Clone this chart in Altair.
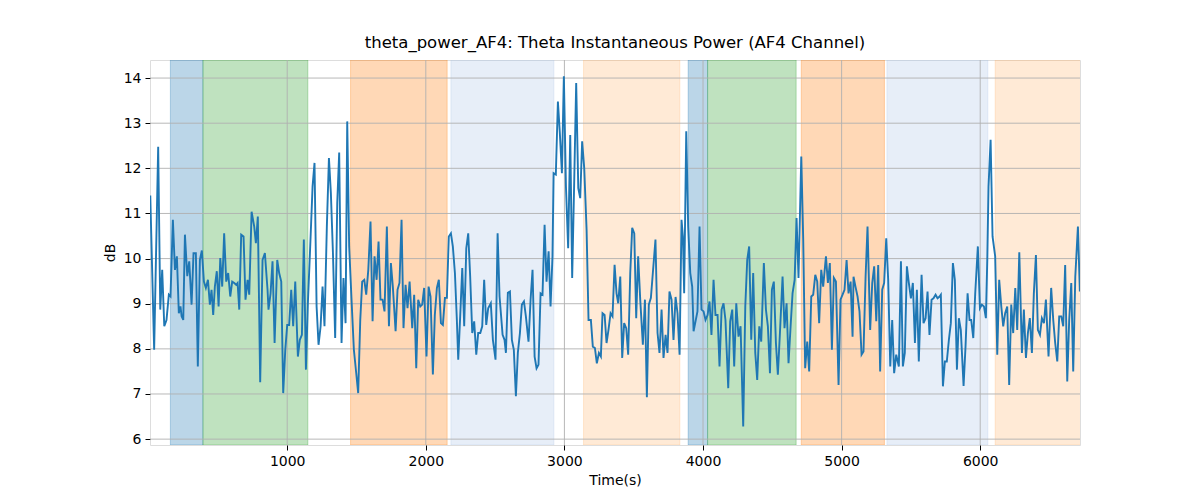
import altair as alt
import pandas as pd

# ---- line data (time in s, power in dB) ----
seg1_t = [12, 40, 69, 84, 98, 113, 129, 146, 158, 175, 190, 204, 218, 230, 238, 250, 262, 279, 293, 310,
          324, 341, 355, 370, 384, 399, 413, 428, 442, 454, 466, 478, 492, 505, 517, 531, 545, 560, 574, 589,
          603, 618, 632, 642, 654, 668, 685, 699, 714, 726, 743, 762, 774, 788, 805, 822, 839, 858]
seg1_v = [11.4, 7.98, 12.48, 8.87, 9.75, 8.50, 8.64, 9.20, 9.16, 10.86, 9.75, 10.05, 8.79, 8.94, 8.72, 8.64, 10.53, 9.61, 9.94, 8.98,
          10.12, 10.12, 7.61, 9.97, 10.18, 9.49, 9.35, 9.53, 8.98, 9.31, 8.75, 9.38, 9.72, 8.94, 10.01, 9.38, 10.56, 9.49, 9.68, 9.16,
          9.49, 9.46, 9.42, 9.46, 8.87, 10.53, 10.49, 9.09, 9.53, 9.20, 11.04, 10.71, 10.34, 10.93, 7.26, 9.97, 10.12, 9.31]

seg2_t = [865, 880, 894, 909, 928, 942, 957, 971, 986, 1000, 1014, 1029, 1043, 1058, 1077, 1091, 1106, 1120, 1135, 1149,
          1164, 1183, 1197, 1212, 1226, 1241, 1255, 1269, 1286, 1301, 1315, 1330, 1346, 1361, 1375, 1392, 1406, 1421, 1433, 1447,
          1464, 1481, 1498, 1512, 1527, 1541, 1556, 1570, 1585, 1601, 1616, 1630, 1645, 1659, 1673, 1688, 1702]
seg2_v = [8.87, 9.23, 9.94, 8.13, 9.97, 9.68, 9.49, 7.02, 7.98, 8.53, 8.53, 9.31, 8.50, 9.49, 7.83, 8.20, 8.31, 10.42, 7.54, 9.01,
          10.12, 11.60, 12.12, 8.94, 8.09, 8.50, 9.38, 8.50, 10.71, 12.23, 11.45, 10.12, 8.24, 11.23, 12.35, 8.13, 9.57, 8.57, 13.04, 10.27,
          9.09, 7.98, 7.46, 7.02, 8.64, 9.49, 9.53, 9.20, 9.75, 10.82, 8.61, 10.05, 9.53, 10.38, 9.09, 9.09, 8.83]

seg3_t = [1719, 1734, 1748, 1762, 1782, 1796, 1810, 1825, 1839, 1854, 1868, 1883, 1902, 1916, 1931, 1945, 1960, 1974, 1988, 2005,
          2020, 2034, 2051, 2065, 2080, 2094, 2109, 2123, 2138, 2152, 2166, 2181, 2195, 2210, 2224, 2234, 2248, 2263, 2277, 2292,
          2306, 2320, 2335, 2349, 2364, 2378, 2393, 2407, 2421, 2436, 2450, 2469, 2484, 2503, 2518, 2532]
seg3_v = [10.71, 8.50, 9.90, 9.38, 8.39, 9.31, 9.46, 10.86, 8.46, 9.42, 8.90, 9.49, 8.46, 9.20, 7.57, 9.09, 8.94, 8.98, 9.35, 7.83,
          9.38, 9.16, 7.43, 8.75, 9.35, 9.53, 8.57, 8.53, 9.13, 9.13, 10.49, 10.56, 10.27, 9.68, 8.64, 7.76, 8.72, 9.79, 8.50, 10.23,
          10.56, 9.61, 8.35, 8.61, 7.87, 8.35, 8.35, 8.50, 9.53, 8.53, 8.90, 9.01, 8.20, 7.76, 10.56, 9.16]

seg4_t = [2554, 2568, 2578, 2592, 2607, 2621, 2635, 2650, 2664, 2679, 2693, 2708, 2722, 2741, 2756, 2770, 2785, 2799, 2813, 2828,
          2842, 2857, 2871, 2886, 2900, 2914, 2922, 2938, 2953, 2967, 2982, 2996, 3011, 3027, 3042, 3056, 3071, 3085, 3100, 3114,
          3128, 3143, 3160, 3174, 3191, 3205, 3220, 3234, 3249, 3263, 3275, 3290, 3304, 3318, 3333, 3347, 3362, 3376]
seg4_v = [8.31, 8.20, 7.91, 9.24, 9.27, 8.20, 7.98, 6.95, 7.91, 8.35, 8.98, 9.05, 8.72, 8.16, 9.09, 9.75, 7.83, 7.57, 7.65, 9.23,
          9.20, 10.75, 9.49, 10.16, 8.94, 10.05, 11.89, 11.86, 13.48, 12.78, 11.89, 14.04, 11.60, 10.23, 12.74, 9.57, 11.75, 13.89, 11.56, 11.34,
          12.60, 12.00, 10.64, 8.64, 8.64, 8.05, 8.02, 7.68, 7.91, 7.83, 8.79, 8.75, 8.13, 8.42, 8.79, 8.72, 9.86, 9.23]

seg5_t = [3388, 3403, 3417, 3431, 3446, 3460, 3475, 3489, 3504, 3518, 3532, 3547, 3566, 3581, 3595, 3609, 3624, 3638, 3657, 3672,
          3686, 3701, 3715, 3730, 3744, 3758, 3773, 3787, 3802, 3816, 3831, 3845, 3855, 3864, 3879, 3893, 3908, 3922, 3932, 3946,
          3960, 3975, 3989, 4004, 4018, 4033, 4047, 4061, 4076, 4090, 4105, 4119, 4134, 4148, 4162, 4182, 4196, 4211, 4225, 4240]
seg5_v = [9.01, 9.60, 7.80, 8.57, 8.46, 7.87, 9.68, 10.68, 10.56, 8.68, 10.05, 9.09, 8.09, 9.09, 6.93, 8.98, 9.13, 9.68, 10.42, 8.35,
          7.91, 8.87, 7.80, 8.31, 7.91, 9.27, 9.09, 8.20, 9.15, 8.79, 7.87, 10.86, 10.49, 9.23, 12.82, 10.71, 9.68, 9.38, 8.39, 8.61,
          8.83, 10.71, 8.87, 8.83, 8.64, 8.75, 9.05, 8.31, 9.53, 8.75, 8.75, 7.61, 8.87, 9.01, 8.64, 7.13, 8.61, 8.87, 7.61, 9.01]

seg6_t = [4256, 4271, 4290, 4305, 4319, 4333, 4348, 4362, 4377, 4391, 4406, 4420, 4439, 4454, 4468, 4483, 4497, 4511, 4526, 4540,
          4555, 4574, 4588, 4603, 4617, 4632, 4646, 4661, 4675, 4689, 4709, 4723, 4737, 4752, 4766, 4781, 4795, 4810, 4824, 4838,
          4853, 4867, 4887, 4901, 4915, 4930, 4944, 4959, 4978, 4992, 5007, 5021, 5036, 5050, 5065, 5079]
seg6_v = [8.27, 8.50, 6.28, 8.94, 9.97, 10.27, 8.20, 9.68, 7.91, 7.31, 8.50, 8.16, 9.90, 8.87, 8.50, 7.46, 9.31, 9.49, 8.13, 7.43,
          8.35, 9.60, 8.46, 9.01, 7.68, 8.50, 9.23, 9.53, 10.90, 9.57, 12.26, 10.42, 7.57, 8.16, 7.50, 9.16, 9.20, 9.64, 9.49, 8.57,
          9.75, 9.38, 10.05, 9.46, 9.90, 7.98, 9.57, 9.49, 7.20, 9.09, 9.20, 9.31, 9.97, 9.23, 9.49, 8.27]

seg7_t = [5086, 5100, 5115, 5129, 5144, 5158, 5173, 5187, 5206, 5221, 5235, 5250, 5264, 5278, 5293, 5307, 5322, 5336, 5351, 5365,
          5379, 5394, 5413, 5428, 5442, 5456, 5471, 5485, 5500, 5514, 5529, 5543, 5557, 5577, 5591, 5606, 5620, 5634, 5649, 5663,
          5678, 5692, 5707, 5716, 5731, 5745, 5759, 5774, 5788, 5803, 5817, 5832, 5846, 5860, 5880, 5894, 5909, 5923]
seg7_v = [9.60, 9.38, 9.16, 8.83, 7.87, 7.94, 9.60, 10.71, 8.42, 9.46, 9.83, 8.61, 9.86, 7.50, 9.31, 9.46, 10.45, 9.53, 7.61, 8.64,
          7.46, 7.87, 7.61, 9.94, 7.61, 7.91, 9.83, 9.46, 9.12, 9.46, 8.13, 9.31, 7.72, 9.64, 8.57, 8.68, 9.27, 8.31, 9.09, 9.12,
          9.20, 9.12, 9.16, 9.20, 7.17, 7.72, 7.72, 8.20, 8.57, 9.90, 9.53, 7.54, 8.68, 8.42, 7.18, 8.05, 9.23, 8.64]

seg8_t = [5935, 5950, 5964, 5983, 5998, 6012, 6027, 6041, 6051, 6060, 6075, 6089, 6108, 6123, 6137, 6152, 6166, 6180, 6195, 6209,
          6224, 6238, 6253, 6267, 6282, 6301, 6315, 6330, 6344, 6358, 6373, 6387, 6402, 6416, 6431, 6445, 6460, 6474, 6493, 6512,
          6527, 6541, 6556, 6570, 6585, 6599, 6613, 6628, 6642, 6657, 6671, 6686, 6705, 6719]
seg8_v = [8.64, 8.24, 9.23, 10.27, 8.90, 8.98, 8.94, 8.68, 9.97, 11.60, 12.63, 10.49, 10.05, 7.87, 9.53, 8.94, 8.50, 8.79, 8.94, 7.20,
          8.98, 8.35, 9.35, 8.42, 10.14, 7.91, 8.87, 7.80, 8.35, 8.68, 7.91, 9.23, 10.08, 8.42, 8.31, 8.68, 8.57, 9.09, 7.83, 9.35,
          8.64, 8.13, 7.72, 8.72, 8.72, 8.50, 9.86, 7.28, 8.64, 9.46, 7.50, 9.60, 10.71, 9.27]

# ---- shaded intervals ----
band_start = [157, 392, 1457, 2181, 3138, 3893, 4033, 4709, 5327, 6108]
band_end = [392, 1149, 2154, 2924, 3833, 4033, 4672, 5309, 6055, 6730]
band_color = ["#1f77b4", "#2ca02c", "#ff7f0e", "#aec7e8", "#ffbb78",
              "#1f77b4", "#2ca02c", "#ff7f0e", "#aec7e8", "#ffbb78"]

x_ticks = [1000, 2000, 3000, 4000, 5000, 6000]
y_ticks = [6, 7, 8, 9, 10, 11, 12, 13, 14]

T = seg1_t + seg2_t + seg3_t + seg4_t + seg5_t + seg6_t + seg7_t + seg8_t
V = seg1_v + seg2_v + seg3_v + seg4_v + seg5_v + seg6_v + seg7_v + seg8_v
line_df = pd.DataFrame({"t": T, "v": V})
band_df = pd.DataFrame({"t": band_start, "t2": band_end, "c": band_color})
gx_df = pd.DataFrame({"t": x_ticks})
gy_df = pd.DataFrame({"v": y_ticks})

FONT = "DejaVu Sans"
W, H = 930, 385

xs = alt.Scale(domain=[10, 6720], nice=False, zero=False)
ys = alt.Scale(domain=[5.87, 14.40], nice=False, zero=False)
xaxis = alt.Axis(values=x_ticks, format="d", title="Time(s)", grid=False, domain=False,
                 tickSize=5, tickWidth=1, tickColor="#000", labelPadding=4,
                 labelFont=FONT, labelFontSize=14, labelColor="#000",
                 titleFont=FONT, titleFontSize=14, titleFontWeight="normal", titleColor="#000", titlePadding=5)
yaxis = alt.Axis(values=y_ticks, format="d", title="dB", grid=False, domain=False,
                 tickSize=5, tickWidth=1, tickColor="#000", labelPadding=4,
                 labelFont=FONT, labelFontSize=14, labelColor="#000",
                 titleFont=FONT, titleFontSize=14, titleFontWeight="normal", titleColor="#000", titlePadding=6)

bands = alt.Chart(band_df).mark_rect(clip=True, fillOpacity=0.3, strokeOpacity=0.3, strokeWidth=1).encode(
    x=alt.X("t:Q", scale=xs, axis=xaxis),
    x2="t2:Q",
    y=alt.value(0),
    y2=alt.value(H),
    fill=alt.Fill("c:N", scale=None),
    stroke=alt.Stroke("c:N", scale=None),
)

grid_x = alt.Chart(gx_df).mark_rule(color="#b0b0b0", strokeWidth=0.9).encode(
    x=alt.X("t:Q", scale=xs, axis=xaxis),
    y=alt.value(0),
    y2=alt.value(H),
)

grid_y = alt.Chart(gy_df).mark_rule(color="#b0b0b0", strokeWidth=0.9).encode(
    y=alt.Y("v:Q", scale=ys, axis=yaxis),
    x=alt.value(0),
    x2=alt.value(W),
)

line = alt.Chart(line_df).mark_line(color="#1f77b4", strokeWidth=1.9, clip=True).encode(
    x=alt.X("t:Q", scale=xs, axis=xaxis),
    y=alt.Y("v:Q", scale=ys, axis=yaxis),
)

chart = alt.layer(bands, grid_x, grid_y, line).properties(
    width=W,
    height=H,
    padding={"left": 142, "top": 52, "right": 112, "bottom": 47},
    autosize=alt.AutoSizeParams(type="none"),
    title=alt.TitleParams(
        text="theta_power_AF4: Theta Instantaneous Power (AF4 Channel)",
        font=FONT, fontSize=16.5, fontWeight="normal", color="#000",
        anchor="middle", offset=8,
    ),
).configure_view(stroke="#000", strokeWidth=1).configure(background="white")

chart.save("out.html", embed_options={"renderer": "svg", "actions": False})
